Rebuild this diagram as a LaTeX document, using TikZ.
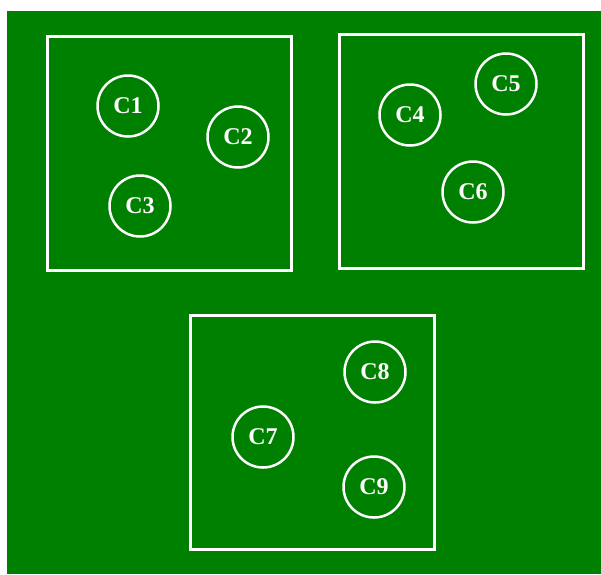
\documentclass[tikz,border=0pt]{standalone}
\usepackage{fontspec}
\setmainfont{Liberation Serif}
\usetikzlibrary{positioning}
\definecolor{pitch}{RGB}{0,128,0}
\tikzset{
  grp/.style={draw=white,line width=3pt,minimum width=244pt,minimum height=234pt,inner sep=0pt},
  cl/.style={circle,draw=white,line width=2.5pt,minimum size=61pt,inner sep=0pt,
    text=white,font=\fontsize{24}{24}\selectfont\bfseries},
}
\begin{document}
\begin{tikzpicture}[x=1pt,y=-1pt]
\fill[white](0,0) rectangle (601,574);
\fill[pitch](7,11) rectangle (601,574);
\useasboundingbox (0,0) rectangle (601,574);
% groups
\node[grp] (g1) at(169.5,153){};
\node[grp] (g2) at(461,151.5){};
\node[grp] (g3) at(312,432.5){};
% clusters
\node[cl] (c1) at(128,106){C1};
\node[cl] (c2) at(238,137){C2};
\node[cl] (c3) at(140,206){C3};
\node[cl] (c4) at(410,115){C4};
\node[cl] (c5) at(506,84){C5};
\node[cl] (c6) at(473,192){C6};
\node[cl] (c7) at(263,437){C7};
\node[cl] (c8) at(375,372){C8};
\node[cl] (c9) at(374,487){C9};
\end{tikzpicture}
\end{document}
